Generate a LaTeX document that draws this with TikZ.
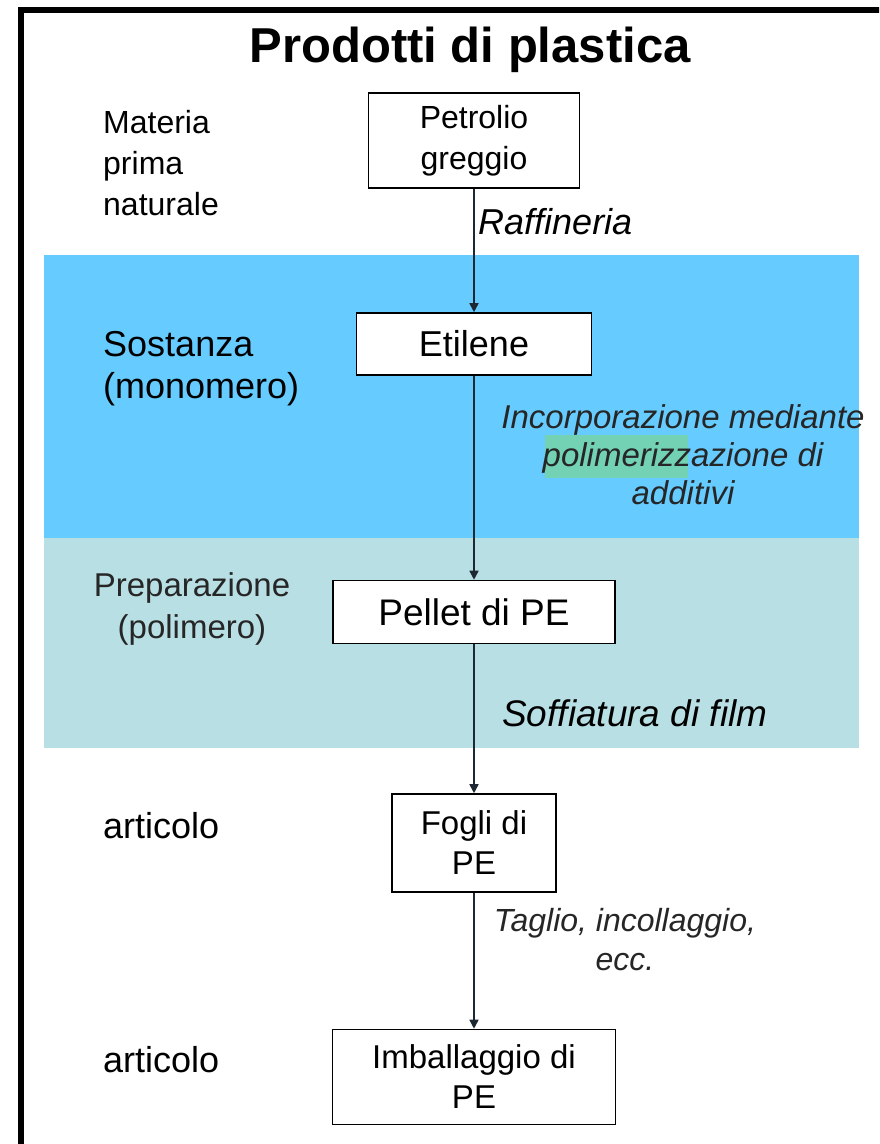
\documentclass[tikz,border=0pt]{standalone}
\usepackage{fontspec}
\setmainfont{Liberation Sans}
\usetikzlibrary{positioning,arrows.meta}
\definecolor{monoblue}{RGB}{102,204,255}
\definecolor{polyteal}{RGB}{183,223,228}
\definecolor{markgreen}{RGB}{115,210,180}
\definecolor{flowline}{RGB}{30,40,50}

\begin{document}
\begin{tikzpicture}[x=1pt, y=-1pt,
  stage/.style={draw, line width=1.6pt, fill=white, align=center, inner sep=0pt},
  side/.style={anchor=west, align=left, inner sep=0pt},
  proc/.style={align=center, inner sep=0pt, text=black!85},
  arr/.style={-{Triangle[length=9pt, width=9pt]}, line width=1.6pt, draw=flowline}
]
\useasboundingbox (0,0) rectangle (879,1144);
\clip (0,0) rectangle (879,1144);
% background bands
\fill[monoblue] (44,255) rectangle (859,538);
\fill[polyteal] (44,538) rectangle (859,748);
\fill[markgreen] (545,435) rectangle (688,478);
% frame
\draw[line width=6.5pt] (21,1160) -- (21,10) -- (890,10);

\node[font=\bfseries\fontsize{49}{58}\selectfont] (title) at (470,50) {Prodotti di plastica};

% stages
\node[stage, minimum width=211pt, minimum height=95pt, font=\fontsize{32}{41}\selectfont] (petrolio) at (474,140.5) {Petrolio\\greggio};
\node[stage, minimum width=235pt, minimum height=62pt, font=\fontsize{36}{42}\selectfont] (etilene) at (474,344) {Etilene};
\node[stage, minimum width=282pt, minimum height=63pt, font=\fontsize{37}{42}\selectfont] (pellet) at (474,612) {Pellet di PE};
\node[stage, minimum width=164pt, minimum height=98pt, font=\fontsize{33}{40}\selectfont] (fogli) at (474,843) {Fogli di\\PE};
\node[stage, minimum width=283pt, minimum height=95pt, font=\fontsize{33}{40}\selectfont] (imballaggio) at (474,1077) {Imballaggio di\\PE};

% left column
\node[side, font=\fontsize{32}{41}\selectfont] (materia) at (103,163) {Materia\\prima\\naturale};
\node[side, font=\fontsize{36}{42}\selectfont] (sostanza) at (103,369) {Sostanza\\(monomero)};
\node[proc, font=\fontsize{33}{42}\selectfont] (preparazione) at (192,609) {Preparazione\\(polimero)};
\node[side, font=\fontsize{36}{42}\selectfont] (articoloA) at (103,826) {articolo};
\node[side, font=\fontsize{36}{42}\selectfont] (articoloB) at (103,1060) {articolo};

% process labels
\node[side, font=\itshape\fontsize{36}{42}\selectfont] (raffineria) at (478,222) {Raffineria};
\node[proc, font=\itshape\fontsize{33}{38}\selectfont] (incorporazione) at (683,455) {Incorporazione mediante\\polimerizzazione di\\additivi};
\node[side, font=\itshape\fontsize{37}{42}\selectfont] (soffiatura) at (502,713) {Soffiatura di film};
\node[proc, font=\itshape\fontsize{32}{39}\selectfont] (taglio) at (625,940) {Taglio, incollaggio,\\ecc.};

\draw[arr] (petrolio) -- (etilene);
\draw[arr] (etilene) -- (pellet);
\draw[arr] (pellet) -- (fogli);
\draw[arr] (fogli) -- (imballaggio);
\end{tikzpicture}
\end{document}
